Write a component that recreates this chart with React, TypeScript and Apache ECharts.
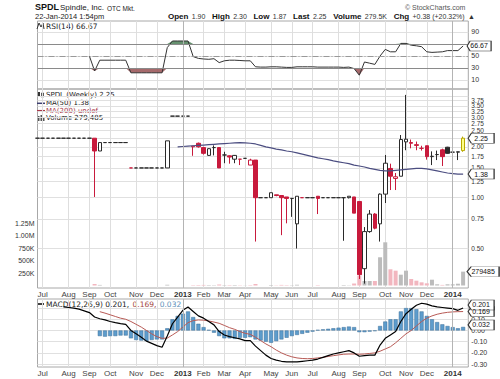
import React, { useEffect, useRef } from "react";
import * as echarts from "echarts";

// ---------- calendar: weekly bars (week start dates) ----------
const START_WEEK = Date.UTC(2012, 5, 25);
const WEEK_COUNT = 84;
const weeks: string[] = Array.from({ length: WEEK_COUNT }, (_, i) =>
  new Date(START_WEEK + i * 7 * 86400000).toISOString().slice(0, 10)
);
const MONTHS = ["Jan", "Feb", "Mar", "Apr", "May", "Jun", "Jul", "Aug", "Sep", "Oct", "Nov", "Dec"];
const YEAR_WEEKS = ["2013-01-07", "2014-01-06"];

// ---------- price data (weekly OHLC) ----------
const open = [
  2.25, 2.25, 2.25, 2.25, 2.25, 2.25, 2.25, 2.25, 2.25, 2.25,
  2.25, 2.25, 1.89, 2.12, 2.12, 2.12, 2.12, 2.12, 1.5, 1.5,
  1.5, 1.5, 1.5, 1.5, 1.5, 1.5, 3.04, 3.04, 3.04, 3.04,
  2.0, 2.1, 1.98, 1.78, 1.98, 1.98, 1.79, 1.77, 1.69, 1.69,
  1.71, 1.56, 1.67, 1.0, 1.0, 1.0, 1.04, 1.03, 1.01, 0.99,
  0.7, 1.0, 1.0, 1.0, 1.02, 1.0, 1.0, 1.0, 1.0, 1.0,
  1.0, 1.01, 0.95, 0.38, 0.63, 0.8, 0.7, 1.05, 1.49, 1.3,
  1.34, 2.14, 2.12, 2.06, 1.96, 2.03, 1.75, 1.8, 1.92, 1.99,
  1.86, 1.86, 1.9,
];
const high = [
  2.25, 2.25, 2.25, 2.25, 2.25, 2.25, 2.25, 2.25, 2.25, 2.25,
  2.25, 2.25, 2.12, 2.12, 2.12, 2.12, 2.12, 2.12, 1.5, 1.5,
  1.5, 1.5, 1.5, 1.5, 1.5, 2.17, 3.04, 3.04, 3.04, 3.04,
  2.02, 2.12, 2.0, 1.96, 2.04, 1.99, 1.87, 1.78, 1.79, 1.69,
  1.71, 1.7, 1.67, 1.0, 1.0, 1.07, 1.04, 1.03, 1.01, 0.99,
  1.02, 1.0, 1.0, 1.0, 1.02, 1.0, 1.0, 1.0, 1.0, 1.0,
  1.02, 1.01, 0.95, 0.67, 0.845, 0.81, 1.06, 1.79, 1.59, 1.4,
  2.35, 4.06, 2.21, 2.15, 2.03, 2.03, 1.88, 1.9, 1.95, 2.0,
  1.92, 1.87, 2.3,
];
const low = [
  2.25, 2.25, 2.25, 2.25, 2.25, 2.25, 2.25, 2.25, 2.25, 2.25,
  2.25, 1.01, 1.89, 2.12, 2.12, 2.12, 2.12, 2.12, 1.5, 1.5,
  1.5, 1.5, 1.5, 1.5, 1.5, 1.5, 3.04, 3.04, 3.04, 3.04,
  1.77, 1.98, 1.8, 1.77, 1.78, 1.5, 1.6, 1.59, 1.6, 1.56,
  1.71, 1.56, 0.55, 1.0, 1.0, 1.0, 1.02, 0.6, 0.705, 0.77,
  0.5, 1.0, 1.0, 1.0, 0.8, 1.0, 1.0, 1.0, 1.0, 0.556,
  0.99, 0.81, 0.33, 0.31, 0.62, 0.65, 0.55, 0.93, 1.11, 1.11,
  1.34, 1.91, 1.96, 1.91, 1.9, 1.68, 1.56, 1.67, 1.54, 1.82,
  1.56, 1.67, 1.87,
];
const close = [
  2.25, 2.25, 2.25, 2.25, 2.25, 2.25, 2.25, 2.25, 2.25, 2.25,
  2.25, 1.89, 2.12, 2.12, 2.12, 2.12, 2.12, 2.12, 1.5, 1.5,
  1.5, 1.5, 1.5, 1.5, 1.5, 2.17, 3.04, 3.04, 3.04, 3.04,
  2.02, 2.0, 1.83, 1.95, 1.98, 1.5, 1.79, 1.74, 1.78, 1.69,
  1.71, 1.67, 1.0, 1.0, 1.0, 1.07, 1.03, 1.0, 0.99, 0.99,
  1.02, 1.0, 1.0, 1.0, 0.99, 1.0, 1.0, 1.0, 1.0, 1.0,
  1.02, 0.81, 0.35, 0.63, 0.8, 0.66, 1.05, 1.6, 1.34, 1.33,
  2.21, 2.22, 2.1, 2.04, 1.96, 1.75, 1.76, 1.8, 1.75, 1.83,
  1.86, 1.87, 2.25,
];
const volume = [
  0, 0, 0, 0, 0, 0, 0, 0, 0, 0,
  0, 30000, 12000, 0, 0, 0, 0, 0, 0, 0,
  0, 0, 0, 0, 0, 15000, 0, 0, 0, 0,
  8000, 10000, 12000, 9000, 7000, 20000, 8000, 9000, 10000, 6000,
  3000, 8000, 30000, 0, 0, 10000, 5000, 12000, 8000, 6000,
  15000, 0, 0, 0, 8000, 0, 0, 0, 0, 10000,
  5000, 40000, 191000, 91000, 91000, 91000, 569000, 871000, 327000, 299000,
  218000, 299000, 131000, 97000, 64000, 44000, 117000, 24000, 12000, 24000,
  24000, 36000, 279485,
];
const ma50 = [
  null, null, null, null, null, null, null, null, null, null,
  null, null, null, null, null, null, null, null, null, null,
  null, null, null, null, null, null, null, 2.0, 2.01, 2.02,
  2.03, 2.04, 2.05, 2.06, 2.07, 2.08, 2.09, 2.1, 2.11, 2.12,
  2.11, 2.1, 2.08, 2.04, 2.0, 1.97, 1.94, 1.92, 1.89, 1.87,
  1.84, 1.81, 1.78, 1.75, 1.72, 1.7, 1.68, 1.65, 1.63, 1.61,
  1.59, 1.56, 1.54, 1.52, 1.49, 1.47, 1.45, 1.44, 1.44, 1.45,
  1.46, 1.47, 1.48, 1.49, 1.49, 1.48, 1.46, 1.44, 1.42, 1.4,
  1.39, 1.38, 1.38,
];

// ---------- indicators ----------
const rsi = [
  null, null, null, null, null, null, null, null, null, null,
  50, 25, 43, 43, 43, 43, 43, 43, 22, 22,
  22, 22, 22, 22, 22, 64, 75, 75, 75, 75,
  49, 46, 45, 44.5, 45.5, 39, 42, 43, 43, 42.5,
  42, 42, 32, 31.5, 31.5, 32, 32, 31.5, 31, 31,
  32, 32, 32, 32, 31.5, 31.5, 31.5, 31.5, 31.5, 31,
  31.5, 29, 18, 40, 38, 36, 50, 61, 57, 57,
  71, 71, 68, 67, 65.5, 57, 56, 56.5, 57, 59,
  59, 59, 66.67,
];
const macd = [
  null, null, null, null, null, 0.21, 0.205, 0.2, 0.19, 0.175,
  0.16, 0.12, 0.105, 0.095, 0.08, 0.07, 0.062, 0.055, 0.0, -0.03,
  -0.06, -0.095, -0.115, -0.135, -0.15, -0.05, 0.06, 0.12, 0.18, 0.21,
  0.17, 0.13, 0.11, 0.08, 0.05, -0.01, -0.04, -0.055, -0.065, -0.075,
  -0.09, -0.09, -0.14, -0.18, -0.22, -0.25, -0.265, -0.275, -0.28, -0.28,
  -0.28, -0.275, -0.27, -0.265, -0.255, -0.24, -0.225, -0.21, -0.2, -0.19,
  -0.18, -0.2, -0.23, -0.225, -0.22, -0.22, -0.13, -0.07, -0.04, -0.01,
  0.08, 0.15, 0.19, 0.225, 0.243, 0.235, 0.22, 0.21, 0.205, 0.2,
  0.195, 0.18, 0.201,
];
const signal = [
  null, null, null, null, null, null, null, null, null, null,
  null, null, 0.168, 0.155, 0.14, 0.125, 0.11, 0.1, 0.08, 0.055,
  0.03, 0.0, -0.03, -0.055, -0.07, -0.068, -0.04, -0.01, 0.03, 0.07,
  0.088, 0.094, 0.092, 0.085, 0.075, 0.064, 0.045, 0.025, 0.01, -0.01,
  -0.025, -0.035, -0.06, -0.09, -0.12, -0.145, -0.175, -0.2, -0.22, -0.235,
  -0.245, -0.25, -0.252, -0.25, -0.245, -0.24, -0.232, -0.225, -0.218, -0.212,
  -0.21, -0.21, -0.212, -0.21, -0.205, -0.2, -0.185, -0.165, -0.145, -0.11,
  -0.07, -0.03, 0.0, 0.04, 0.08, 0.11, 0.13, 0.145, 0.155, 0.162,
  0.166, 0.168, 0.169,
];
const hist = [
  null, null, null, null, null, null, null, null, null, null,
  null, null, -0.05, -0.055, -0.05, -0.05, -0.045, -0.045, -0.07, -0.085,
  -0.09, -0.095, -0.085, -0.08, -0.08, 0.02, 0.1, 0.13, 0.15, 0.17,
  0.12, 0.06, 0.03, 0.005, -0.02, -0.05, -0.07, -0.07, -0.075, -0.065,
  -0.065, -0.06, -0.08, -0.09, -0.1, -0.11, -0.095, -0.08, -0.065, -0.05,
  -0.04, -0.03, -0.02, -0.01, 0.005, 0.01, 0.015, 0.02, 0.025, 0.03,
  0.035, 0.03, -0.015, -0.015, -0.01, -0.005, 0.04, 0.08, 0.1, 0.1,
  0.17, 0.2, 0.2, 0.19, 0.17, 0.13, 0.1, 0.075, 0.055, 0.04,
  0.03, 0.02, 0.032,
];

// ---------- tick labels ----------
const PRICE_TICKS = [0.5, 0.75, 1, 1.25, 1.5, 1.75, 2, 2.25, 2.5, 2.75, 3, 3.25, 3.5, 3.75, 4];
const PRICE_LABELS = [0.5, 0.75, 1, 1.25, 1.5, 1.75, 2, 2.5, 2.75, 3, 3.25, 3.5, 3.75, 4];
const VOLUME_TICKS = [250000, 500000, 750000, 1000000, 1250000];
const RSI_TICKS = [10, 30, 50, 70, 90];
const RSI_LABELS = [10, 30, 50, 90];
const MACD_TICKS = [-0.3, -0.2, -0.1, 0, 0.1, 0.2];
const MACD_LABELS = [-0.3, -0.2, -0.1, 0, 0.1];

const FONT = '"Liberation Sans", Arial, sans-serif';
const LFONT = '"DejaVu Sans", Verdana, sans-serif';

const RED = "#c81a3c";
const DARK = "#2a2a2a";

const lg = (v: number | null) => (v == null ? null : Math.log10(v));
const isUp = (i: number) => i === 0 || close[i] >= close[i - 1];
const monthOf = (s: string) => Number(s.slice(5, 7)) - 1;
const isMonthStart = (i: number) => i > 0 && monthOf(weeks[i]) !== monthOf(weeks[i - 1]);
const monthLabel = (s: string) => {
  const m = monthOf(s);
  return m === 0 ? `{y|${s.slice(0, 4)}}` : MONTHS[m];
};

const TAG = "path://M0,6L5,0L40,0L40,12L5,12Z";
const LAST = weeks[close.length - 1];

function tagPoint(value: number, text: string, w: number, dx: number, dy = 0) {
  return {
    symbol: TAG,
    symbolSize: [w, 10],
    symbolOffset: [dx, dy],
    silent: true,
    itemStyle: { color: "#fff", borderColor: "#333", borderWidth: 0.8 },
    label: { show: true, position: "inside", fontSize: 7, color: "#111", fontFamily: FONT, formatter: text },
    data: [{ coord: [LAST, value], value: text }],
  };
}

const yearLines = (extra: any[] = []) => ({
  silent: true,
  symbol: ["none", "none"],
  label: { show: false },
  lineStyle: { color: "#b4b4b4", width: 1, type: "solid" },
  data: [...YEAR_WEEKS.map((w) => ({ xAxis: w })), ...extra],
});

function buildOption() {
  const n = close.length;
  const candleData = open.map((o, i) => {
    const last = i === n - 1;
    const stroke = last ? "#b9a800" : isUp(i) ? DARK : RED;
    const fill = last ? "#ffff88" : close[i] > o ? "#ffffff" : stroke;
    return {
      value: [lg(o), lg(close[i]), lg(low[i]), lg(high[i])],
      itemStyle: {
        color: fill,
        color0: fill,
        borderColor: stroke,
        borderColor0: stroke,
        borderColorDoji: stroke,
        borderWidth: 1,
      },
    };
  });
  const volData = volume.map((v, i) => ({
    value: v,
    itemStyle: { color: isUp(i) ? "#bcbcbc" : "#f2b6bf" },
  }));

  const gridBase = { left: 37.5, right: 31.7, show: true, borderColor: "#a8a8a8", borderWidth: 1 };

  const xAxisFor = (gridIndex: number, showLabel: boolean) => ({
    type: "category",
    gridIndex,
    data: weeks,
    boundaryGap: false,
    axisLine: { show: false },
    axisTick: { show: false },
    axisLabel: {
      show: showLabel,
      interval: (i: number) => isMonthStart(i),
      formatter: (v: string) => monthLabel(v),
      fontSize: 8,
      color: "#444",
      margin: 2,
      fontFamily: FONT,
      rich: { y: { fontWeight: "bold", fontSize: 8, color: "#333", fontFamily: FONT } },
    },
    splitLine: {
      show: true,
      interval: (i: number) => isMonthStart(i),
      lineStyle: { color: "#dedede", width: 1 },
    },
  });

  const yLabel = { fontSize: 7, color: "#333", margin: 3, fontFamily: FONT };

  return {
    animation: false,
    backgroundColor: "#fff",
    grid: [
      { ...gridBase, top: 21, height: 68 },
      { ...gridBase, top: 89, height: 199 },
      { ...gridBase, top: 299, height: 68 },
    ],
    xAxis: [xAxisFor(0, false), xAxisFor(1, true), xAxisFor(2, true)],
    yAxis: [
      {
        type: "value",
        gridIndex: 0,
        position: "right",
        min: -5,
        max: 108.33,
        axisLine: { show: false },
        axisTick: { show: false, customValues: RSI_TICKS },
        axisLabel: { ...yLabel, customValues: RSI_LABELS },
        splitLine: { show: true, lineStyle: { color: "#e0e0e0" } },
      },
      {
        type: "value",
        gridIndex: 1,
        position: "right",
        min: Math.log10(0.292),
        max: Math.log10(4.4),
        axisLine: { show: false },
        axisTick: { show: false, customValues: PRICE_TICKS.map((v) => Math.log10(v)) },
        axisLabel: {
          ...yLabel,
          fontSize: 6.5,
          customValues: PRICE_LABELS.map((v) => Math.log10(v)),
          formatter: (v: number) => Math.pow(10, v).toFixed(2),
        },
        splitLine: { show: true, lineStyle: { color: "#e0e0e0" } },
      },
      {
        type: "value",
        gridIndex: 1,
        position: "left",
        min: -50400,
        max: 3961440,
        axisLine: { show: false },
        axisTick: { show: false, customValues: VOLUME_TICKS },
        axisLabel: {
          ...yLabel,
          margin: 3,
          customValues: VOLUME_TICKS,
          formatter: (v: number) => (v >= 1000000 ? (v / 1000000).toFixed(2) + "M" : Math.round(v / 1000) + "K"),
        },
        splitLine: { show: false },
      },
      {
        type: "value",
        gridIndex: 2,
        position: "right",
        min: -0.326,
        max: 0.281,
        axisLine: { show: false },
        axisTick: { show: false, customValues: MACD_TICKS },
        axisLabel: { ...yLabel, customValues: MACD_LABELS, formatter: (v: number) => v.toFixed(2) },
        splitLine: { show: true, lineStyle: { color: "#e0e0e0" } },
      },
    ],
    series: [
      {
        type: "line",
        xAxisIndex: 0,
        yAxisIndex: 0,
        data: rsi.map((v) => (v == null ? null : Math.min(v, 30))),
        symbol: "none",
        silent: true,
        lineStyle: { width: 0, opacity: 0 },
        areaStyle: { origin: 30, color: "#9c5a5c", opacity: 0.9 },
        markLine: yearLines(),
      },
      {
        type: "line",
        xAxisIndex: 0,
        yAxisIndex: 0,
        data: rsi.map((v) => (v == null ? null : Math.max(v, 70))),
        symbol: "none",
        silent: true,
        lineStyle: { width: 0, opacity: 0 },
        areaStyle: { origin: 70, color: "#55855f", opacity: 0.9 },
      },
      {
        type: "line",
        xAxisIndex: 0,
        yAxisIndex: 0,
        data: rsi,
        symbol: "none",
        lineStyle: { color: "#333", width: 1 },
        markLine: {
          silent: true,
          symbol: ["none", "none"],
          label: { show: false },
          data: [
            { yAxis: 30, lineStyle: { color: "#8a8a8a", width: 1, type: "solid" } },
            { yAxis: 70, lineStyle: { color: "#8a8a8a", width: 1, type: "solid" } },
            { yAxis: 50, lineStyle: { color: "#999", width: 1, type: [6, 2, 1, 2] } },
          ],
        },
        markPoint: tagPoint(66.67, "66.67", 24, 16),
      },
      {
        type: "bar",
        xAxisIndex: 1,
        yAxisIndex: 2,
        data: volData,
        barWidth: 4,
        markLine: yearLines(),
        markPoint: tagPoint(279485, "279485", 32, 20),
      },
      {
        type: "candlestick",
        xAxisIndex: 1,
        yAxisIndex: 1,
        data: candleData,
        barWidth: 4,
        markPoint: tagPoint(Math.log10(2.25), "2.25", 26, 18),
      },
      {
        type: "line",
        xAxisIndex: 1,
        yAxisIndex: 1,
        data: ma50.map((v) => lg(v)),
        symbol: "none",
        lineStyle: { color: "#4b4d80", width: 1.2 },
        markPoint: tagPoint(Math.log10(1.38), "1.38", 26, 18),
      },
      {
        type: "bar",
        xAxisIndex: 2,
        yAxisIndex: 3,
        data: hist,
        barWidth: 4,
        itemStyle: { color: "#5d9ccc", borderColor: "#3b6f99", borderWidth: 0.5 },
        markLine: yearLines(),
        markPoint: tagPoint(0.032, "0.032", 26, 18, -2),
      },
      {
        type: "line",
        xAxisIndex: 2,
        yAxisIndex: 3,
        data: signal,
        symbol: "none",
        lineStyle: { color: "#b85a55", width: 1 },
        markPoint: tagPoint(0.169, "0.169", 26, 18),
      },
      {
        type: "line",
        xAxisIndex: 2,
        yAxisIndex: 3,
        data: macd,
        symbol: "none",
        lineStyle: { color: "#000", width: 1.2 },
        markPoint: tagPoint(0.201, "0.201", 26, 18, -3),
      },
    ],
    graphic: [
      { type: "text", x: 35, y: 7, style: { text: "SPDL", font: `bold 9px ${FONT}`, fill: "#111", verticalAlign: "middle" } },
      { type: "text", x: 60, y: 7.5, style: { text: "Spindle, Inc.", font: `8px ${FONT}`, fill: "#222", verticalAlign: "middle" } },
      { type: "text", x: 107, y: 8, style: { text: "OTC Mkt.", font: `6.5px ${FONT}`, fill: "#222", verticalAlign: "middle" } },
      { type: "text", x: 35, y: 16, style: { text: "22-Jan-2014 1:54pm", font: `7.5px ${FONT}`, fill: "#222", verticalAlign: "middle" } },
      {
        type: "text",
        x: 168,
        y: 16,
        style: {
          text:
            "{b|Open} {v|1.90}  {b|High} {v|2.30}  {b|Low} {v|1.87}  {b|Last} {v|2.25}  {b|Volume} {v|279.5K}  {b|Chg} {v|+0.38 (+20.32%)} {v|▲}",
          verticalAlign: "middle",
          rich: {
            b: { font: `bold 8px ${FONT}`, fill: "#111" },
            v: { font: `7px ${FONT}`, fill: "#333" },
          },
        },
      },
      { type: "text", x: 405, y: 7, style: { text: "© StockCharts.com", font: `7px ${FONT}`, fill: "#555", verticalAlign: "middle" } },
      // RSI legend
      { type: "polyline", shape: { points: [[37, 29], [39, 23], [41, 27], [43, 23], [44, 29]] }, style: { stroke: "#333", lineWidth: 1, fill: "none" } },
      { type: "text", x: 46, y: 26, style: { text: "RSI(14) 66.67", font: `7.5px ${LFONT}`, fill: "#222", verticalAlign: "middle" } },
      // price legend
      { type: "rect", shape: { x: 38, y: 92, width: 2, height: 5 }, style: { fill: "#333" } },
      { type: "rect", shape: { x: 41.5, y: 93, width: 2, height: 4 }, style: { fill: "#fff", stroke: "#333", lineWidth: 0.8 } },
      { type: "text", x: 46, y: 95.3, style: { text: "SPDL (Weekly) 2.25", font: `7px ${LFONT}`, fill: "#222", verticalAlign: "middle" } },
      { type: "line", shape: { x1: 37, y1: 103.3, x2: 45, y2: 103.3 }, style: { stroke: "#3d3f70", lineWidth: 1.5 } },
      { type: "text", x: 46, y: 103.3, style: { text: "MA(50) 1.38", font: `7px ${LFONT}`, fill: "#222", verticalAlign: "middle" } },
      { type: "line", shape: { x1: 37, y1: 110.7, x2: 45, y2: 110.7 }, style: { stroke: "#a8384a", lineWidth: 1.5 } },
      { type: "text", x: 46, y: 110.7, style: { text: "MA(200) undef", font: `7px ${LFONT}`, fill: "#a8384a", verticalAlign: "middle" } },
      { type: "rect", shape: { x: 38, y: 116, width: 1.5, height: 5 }, style: { fill: "#555" } },
      { type: "rect", shape: { x: 40.5, y: 115, width: 1.5, height: 6 }, style: { fill: "#555" } },
      { type: "rect", shape: { x: 43, y: 117, width: 1.5, height: 4 }, style: { fill: "#555" } },
      { type: "text", x: 46, y: 118.3, style: { text: "Volume 279,485", font: `7px ${LFONT}`, fill: "#222", verticalAlign: "middle" } },
      // MACD legend
      { type: "line", shape: { x1: 38, y1: 304, x2: 44, y2: 304 }, style: { stroke: "#000", lineWidth: 1.5 } },
      {
        type: "text",
        x: 46,
        y: 304,
        style: {
          text: "{k|MACD(12,26,9) 0.201,} {r|0.169,} {s|0.032}",
          verticalAlign: "middle",
          rich: {
            k: { font: `7.5px ${LFONT}`, fill: "#222" },
            r: { font: `7.5px ${LFONT}`, fill: "#a0443e" },
            s: { font: `7.5px ${LFONT}`, fill: "#5b8fb9" },
          },
        },
      },
    ],
  };
}

export default function App() {
  const ref = useRef<HTMLDivElement>(null);
  useEffect(() => {
    document.body.style.margin = "0";
    const chart = echarts.init(ref.current!, null, { renderer: "svg" });
    chart.setOption(buildOption() as any);
    return () => chart.dispose();
  }, []);
  return <div ref={ref} style={{ width: 500, height: 379, background: "#fff" }} />;
}
